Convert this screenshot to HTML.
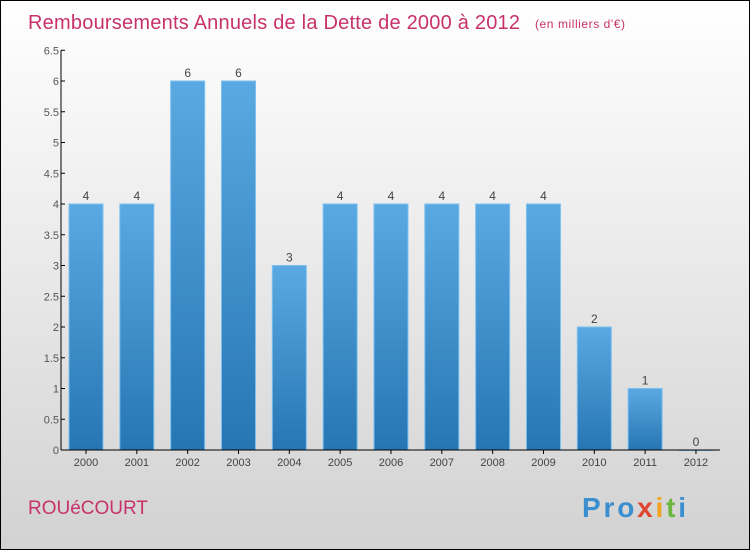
<!DOCTYPE html>
<html><head><meta charset="utf-8"><style>
body{margin:0;width:750px;height:550px;overflow:hidden;font-family:"Liberation Sans",sans-serif}
#frame{position:absolute;left:0;top:0;width:748px;height:548px;border:1px solid #000;background:linear-gradient(#fff,#d2d2d2);}
</style></head><body>
<div id="frame"></div>
<svg id="c" width="750" height="550" style="position:absolute;left:0;top:0">
<defs><linearGradient id="bg" x1="0" y1="0" x2="0" y2="1"><stop offset="0" stop-color="#5aa9e2"/><stop offset="1" stop-color="#2676b4"/></linearGradient></defs>
<text x="28" y="29" font-size="20" textLength="492" fill="#c8326a">Remboursements Annuels de la Dette de 2000 à 2012</text>
<text x="535" y="28" font-size="12" textLength="90" fill="#c8326a">(en milliers d'€)</text>
<text x="28" y="514" font-size="19" fill="#c8326a">ROUéCOURT</text>
<text x="582" y="517" font-size="28" font-weight="bold" textLength="104" fill="#3a8fd0">Pro<tspan fill="#e0462f">x</tspan><tspan fill="#f2a21d">i</tspan><tspan fill="#6ab63f">t</tspan><tspan fill="#3a8fd0">i</tspan></text>
<g id="plot"></g>
</svg>
<script>
const years=["2000","2001","2002","2003","2004","2005","2006","2007","2008","2009","2010","2011","2012"];
const values=[4,4,6,6,3,4,4,4,4,4,2,1,0];
const yTicks=[0,0.5,1,1.5,2,2.5,3,3.5,4,4.5,5,5.5,6,6.5];
const NS="http://www.w3.org/2000/svg";
const g=document.getElementById('plot');
const x0=61,yb=450,ppu=61.5,step=50.83,c0=86,bw=34;
const y=v=>yb-v*ppu, xc=i=>c0+i*step;
function el(t,a,p){const e=document.createElementNS(NS,t);for(const k in a)e.setAttribute(k,a[k]);(p||g).appendChild(e);return e;}
values.forEach((v,i)=>{
 const r=el('rect',{x:xc(i)-bw/2,y:y(v),width:bw,height:Math.max(yb-y(v),0.5),fill:'url(#bg)',stroke:'#7cc0f0','stroke-width':1});
 
 
 const t=el('text',{x:xc(i),y:y(v)-4,'text-anchor':'middle','font-size':12,fill:'#444'});t.textContent=v;
 
 
 const xl=el('text',{x:xc(i),y:466,'text-anchor':'middle','font-size':11,fill:'#444'});xl.textContent=years[i];
 
 
 el('line',{x1:xc(i),x2:xc(i),y1:yb,y2:yb+4,stroke:'#000'});
});
yTicks.forEach(v=>{
 el('line',{x1:x0,x2:x0+4,y1:y(v),y2:y(v),stroke:'#000'});
 const t=el('text',{x:x0-2,y:y(v)+4,'text-anchor':'end','font-size':11,fill:'#555'});t.textContent=v;
 
 
});
const ya=el('line',{x1:x0,x2:x0,y1:y(6.5),y2:yb,stroke:'#000'});


const xa=el('line',{x1:x0,x2:720,y1:yb,y2:yb,stroke:'#000'});


</script>
</body></html>
